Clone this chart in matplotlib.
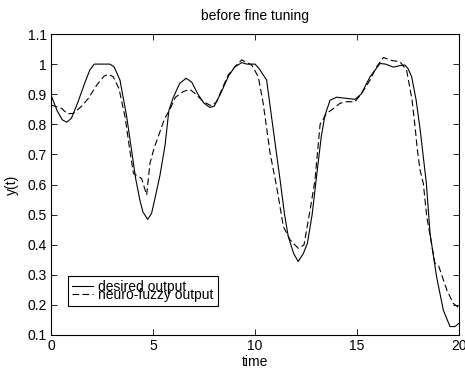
import matplotlib
matplotlib.use("Agg")
import matplotlib.pyplot as plt

# desired output (solid)
t_desired = [0.0, 0.3, 0.55, 0.77, 1.0, 1.3, 1.67, 1.9, 2.12, 2.5, 2.89, 3.1,
             3.38, 3.7, 4.0, 4.15, 4.35, 4.5, 4.74, 4.93, 5.15, 5.34, 5.59,
             5.78, 6.0, 6.3, 6.62, 6.9, 7.2, 7.5, 7.79, 8.0, 8.3, 8.7, 9.0,
             9.35, 9.6, 10.0, 10.2, 10.57, 10.8, 11.06, 11.23, 11.45, 11.63,
             11.9, 12.12, 12.37, 12.57, 12.8, 13.04, 13.25, 13.43, 13.68,
             14.0, 14.5, 14.9, 15.2, 15.64, 16.13, 16.4, 16.78, 17.1, 17.35,
             17.5, 17.68, 17.9, 18.1, 18.4, 18.58, 18.9, 19.23, 19.56, 19.8,
             20.0]
y_desired = [0.897, 0.845, 0.815, 0.807, 0.82, 0.87, 0.94, 0.98, 1.0, 1.0,
             1.0, 0.99, 0.947, 0.83, 0.69, 0.62, 0.55, 0.51, 0.484, 0.504,
             0.57, 0.63, 0.73, 0.847, 0.89, 0.935, 0.953, 0.94, 0.9, 0.87,
             0.856, 0.86, 0.9, 0.96, 0.99, 1.005, 1.0, 1.0, 0.985, 0.947,
             0.83, 0.70, 0.615, 0.5, 0.427, 0.37, 0.344, 0.371, 0.405, 0.5,
             0.64, 0.76, 0.83, 0.88, 0.89, 0.886, 0.883, 0.9, 0.958, 1.002,
             1.0, 0.99, 0.995, 0.997, 0.985, 0.958, 0.88, 0.78, 0.604, 0.438,
             0.294, 0.183, 0.128, 0.128, 0.139]

# neuro-fuzzy output (dashed)
t_fuzzy = [0.0, 0.52, 0.8, 1.09, 1.5, 1.83, 2.24, 2.6, 2.81, 3.05, 3.33, 3.63,
           3.85, 4.04, 4.2, 4.44, 4.69, 4.85, 5.05, 5.26, 5.56, 5.83, 6.1,
           6.49, 6.81, 7.1, 7.47, 7.87, 8.12, 8.4, 8.69, 9.0, 9.35, 9.6, 9.84,
           10.16, 10.4, 10.74, 11.06, 11.39, 11.72, 12.12, 12.4, 12.7, 12.94,
           13.19, 13.51, 13.8, 14.17, 14.5, 14.9, 15.2, 15.64, 15.95, 16.29,
           16.7, 17.1, 17.43, 17.7, 17.85, 17.95, 18.09, 18.25, 18.42, 18.82,
           18.99, 19.4, 19.72, 20.0]
y_fuzzy = [0.864, 0.853, 0.835, 0.836, 0.86, 0.886, 0.93, 0.96, 0.966, 0.958,
           0.919, 0.825, 0.72, 0.637, 0.63, 0.62, 0.565, 0.67, 0.72, 0.76,
           0.817, 0.85, 0.89, 0.909, 0.916, 0.9, 0.875, 0.861, 0.875, 0.92,
           0.964, 0.99, 1.014, 1.005, 0.997, 0.958, 0.87, 0.704, 0.593, 0.46,
           0.416, 0.388, 0.399, 0.515, 0.615, 0.80, 0.836, 0.85, 0.87, 0.875,
           0.875, 0.9, 0.947, 0.99, 1.022, 1.012, 1.008, 0.98, 0.88, 0.79,
           0.72, 0.648, 0.604, 0.493, 0.338, 0.332, 0.25, 0.205, 0.19]

x_ticks = [0, 5, 10, 15, 20]
y_ticks = [0.1, 0.2, 0.3, 0.4, 0.5, 0.6, 0.7, 0.8, 0.9, 1.0, 1.1]
y_tick_labels = ["0.1", "0.2", "0.3", "0.4", "0.5", "0.6", "0.7", "0.8",
                 "0.9", "1", "1.1"]

plt.rcParams["font.family"] = ["Liberation Sans", "DejaVu Sans"]
plt.rcParams["font.size"] = 10

fig = plt.figure(figsize=(4.65, 3.69), dpi=100)
ax = fig.add_axes([51 / 465, 34 / 369, 408 / 465, 301 / 369])

ax.plot(t_desired, y_desired, color="black", linewidth=0.8,
        label="desired output")
ax.plot(t_fuzzy, y_fuzzy, color="black", linewidth=0.8, dashes=(6, 3),
        label="neuro-fuzzy output")

ax.set_xlim(0, 20)
ax.set_ylim(0.1, 1.1)
ax.set_xticks(x_ticks)
ax.set_yticks(y_ticks)
ax.set_yticklabels(y_tick_labels)
ax.tick_params(direction="in", length=4, width=0.6, top=True, right=True,
               pad=3, labelsize=10)
for spine in ax.spines.values():
    spine.set_linewidth(0.8)

ax.set_title("before fine tuning", fontsize=10, pad=10)
ax.set_xlabel("time", labelpad=1)
ax.set_ylabel("y(t)", labelpad=6)

leg = ax.legend(loc="lower left", bbox_to_anchor=(0.042, 0.096),
                frameon=True, fancybox=False, framealpha=1,
                edgecolor="black", borderpad=0.3, labelspacing=-0.45,
                handlelength=1.5, handletextpad=0.35, borderaxespad=0,
                fontsize=10)
leg.get_frame().set_linewidth(0.8)

fig.savefig("out.png", dpi=100)
